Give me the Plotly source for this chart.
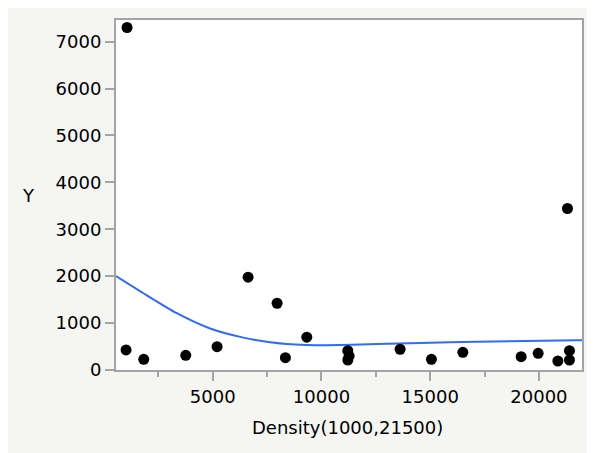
import plotly.graph_objects as go

# Scatter points
density = [1058, 1012, 1826, 3758, 5198, 6624, 7958, 8340, 9324, 11210, 11270,
           11210, 13616, 15056, 16500, 19182, 19964, 20870, 21404, 21404, 21312]
y_vals = [7300, 427, 227, 314, 497, 1978, 1423, 263, 700, 412, 299,
          213, 442, 228, 377, 284, 356, 192, 412, 213, 3442]

# Smoothing curve
curve_x = [550, 1808, 3344, 4876, 6408, 7636, 8404, 9300, 10244, 12544, 14540, 17144, 21744, 21980]
curve_y = [2000, 1636, 1210, 885, 690, 590, 555, 535, 528, 552, 578, 600, 634, 636]

x_ticks = [5000, 10000, 15000, 20000]
y_ticks = [0, 1000, 2000, 3000, 4000, 5000, 6000, 7000]

FONT = "DejaVu Sans"
GRID = "#a4a4a4"
PANEL = "#f5f5f1"

# page has an 8px body margin; figure sized to fit window
W, H = 587, 445
L, R, T, B = 108, 13, 12, 83
w = W - L - R
h = H - T - B
OFF = 8

fig = go.Figure()
fig.add_trace(go.Scatter(x=curve_x, y=curve_y, mode="lines",
                         line=dict(color="#2f6bff", width=2, shape="spline", smoothing=0.6),
                         hoverinfo="skip"))
fig.add_trace(go.Scatter(x=density, y=y_vals, mode="markers",
                         marker=dict(color="black", size=11)))

fig.update_layout(
    width=W, height=H,
    margin=dict(l=L, r=R, t=T, b=B, autoexpand=False),
    paper_bgcolor=PANEL, plot_bgcolor="white",
    showlegend=False,
    font=dict(family=FONT, size=18, color="black"),
)
fig.update_xaxes(
    range=[550, 21980], tickvals=x_ticks, ticktext=[str(v) for v in x_ticks],
    automargin=False,
    showgrid=False, zeroline=False, showline=True, linecolor=GRID, linewidth=2,
    mirror=True, ticks="outside", ticklen=9, tickcolor=GRID, tickwidth=1.5,
    minor=dict(tickvals=[2500, 7500, 12500, 17500], ticks="outside", ticklen=5,
               tickcolor=GRID, tickwidth=1.5),
    tickfont=dict(family=FONT, size=18),
)
fig.update_yaxes(
    range=[0, 7460], tickvals=y_ticks, ticktext=[str(v) for v in y_ticks],
    automargin=False,
    showgrid=False, zeroline=False, showline=True, linecolor=GRID, linewidth=2,
    mirror=True, ticks="outside", ticklen=9, tickcolor=GRID, tickwidth=1.5,
    tickfont=dict(family=FONT, size=18),
)
fig.add_annotation(text="Y", xref="paper", yref="paper",
                   x=(28 - OFF - L) / w, y=(H - B - (195 - OFF)) / h,
                   xanchor="center", yanchor="middle", showarrow=False,
                   font=dict(family=FONT, size=18, color="black"))
fig.add_annotation(text="Density(1000,21500)", xref="paper", yref="paper",
                   x=(347 - OFF - L) / w, y=(H - B - (427 - OFF)) / h,
                   xanchor="center", yanchor="middle", showarrow=False,
                   font=dict(family=FONT, size=18, color="black"))

fig.write_html("out.html")
